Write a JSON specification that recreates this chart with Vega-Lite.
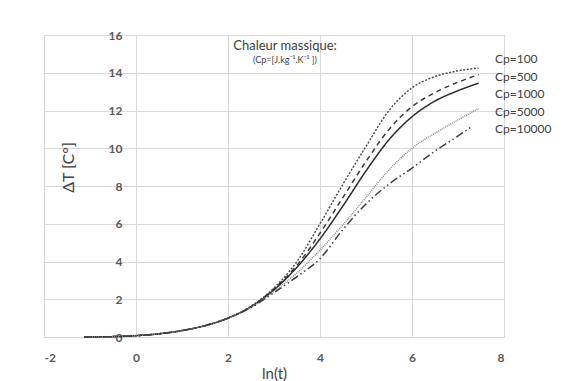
{
  "$schema": "https://vega.github.io/schema/vega-lite/v6.json",
  "width": 460,
  "height": 302,
  "autosize": {"type": "none"},
  "padding": {"left": 44, "top": 35, "right": 71, "bottom": 44},
  "background": "white",
  "config": {
    "view": {"stroke": "#d9d9d9", "strokeWidth": 1},
    "font": "Lato"
  },
  "title": {
    "text": "Chaleur massique:",
    "subtitle": "(Cp=[J.kg⁻¹.K⁻¹ ])",
    "anchor": "middle",
    "frame": "group",
    "offset": -36,
    "dx": 11,
    "font": "Lato",
    "fontSize": 13,
    "fontWeight": "normal",
    "color": "#404040",
    "subtitleFont": "Lato",
    "subtitleFontSize": 9,
    "subtitleColor": "#404040",
    "subtitlePadding": 3
  },
  "data": {
    "values": [
      {"s": "Cp=100", "x": -1.13, "y": 0}, {"s": "Cp=100", "x": -0.5, "y": 0.02}, {"s": "Cp=100", "x": 0, "y": 0.07}, {"s": "Cp=100", "x": 0.5, "y": 0.17}, {"s": "Cp=100", "x": 1, "y": 0.34}, {"s": "Cp=100", "x": 1.5, "y": 0.6}, {"s": "Cp=100", "x": 2, "y": 1.0}, {"s": "Cp=100", "x": 2.5, "y": 1.63}, {"s": "Cp=100", "x": 3, "y": 2.6}, {"s": "Cp=100", "x": 3.5, "y": 4.0}, {"s": "Cp=100", "x": 4, "y": 6.0}, {"s": "Cp=100", "x": 4.5, "y": 8.1}, {"s": "Cp=100", "x": 5, "y": 10.1}, {"s": "Cp=100", "x": 5.5, "y": 12.0}, {"s": "Cp=100", "x": 6, "y": 13.2}, {"s": "Cp=100", "x": 6.5, "y": 13.8}, {"s": "Cp=100", "x": 7, "y": 14.1}, {"s": "Cp=100", "x": 7.45, "y": 14.25},
      {"s": "Cp=500", "x": -1.13, "y": 0}, {"s": "Cp=500", "x": -0.5, "y": 0.02}, {"s": "Cp=500", "x": 0, "y": 0.07}, {"s": "Cp=500", "x": 0.5, "y": 0.17}, {"s": "Cp=500", "x": 1, "y": 0.34}, {"s": "Cp=500", "x": 1.5, "y": 0.6}, {"s": "Cp=500", "x": 2, "y": 1.0}, {"s": "Cp=500", "x": 2.5, "y": 1.61}, {"s": "Cp=500", "x": 3, "y": 2.55}, {"s": "Cp=500", "x": 3.5, "y": 3.8}, {"s": "Cp=500", "x": 4, "y": 5.5}, {"s": "Cp=500", "x": 4.5, "y": 7.4}, {"s": "Cp=500", "x": 5, "y": 9.3}, {"s": "Cp=500", "x": 5.5, "y": 11.0}, {"s": "Cp=500", "x": 6, "y": 12.2}, {"s": "Cp=500", "x": 6.5, "y": 12.95}, {"s": "Cp=500", "x": 7, "y": 13.5}, {"s": "Cp=500", "x": 7.45, "y": 13.9},
      {"s": "Cp=1000", "x": -1.13, "y": 0}, {"s": "Cp=1000", "x": -0.5, "y": 0.02}, {"s": "Cp=1000", "x": 0, "y": 0.07}, {"s": "Cp=1000", "x": 0.5, "y": 0.17}, {"s": "Cp=1000", "x": 1, "y": 0.34}, {"s": "Cp=1000", "x": 1.5, "y": 0.6}, {"s": "Cp=1000", "x": 2, "y": 1.0}, {"s": "Cp=1000", "x": 2.5, "y": 1.6}, {"s": "Cp=1000", "x": 3, "y": 2.5}, {"s": "Cp=1000", "x": 3.5, "y": 3.7}, {"s": "Cp=1000", "x": 4, "y": 5.2}, {"s": "Cp=1000", "x": 4.5, "y": 6.95}, {"s": "Cp=1000", "x": 5, "y": 8.8}, {"s": "Cp=1000", "x": 5.5, "y": 10.45}, {"s": "Cp=1000", "x": 6, "y": 11.67}, {"s": "Cp=1000", "x": 6.5, "y": 12.5}, {"s": "Cp=1000", "x": 7, "y": 13.05}, {"s": "Cp=1000", "x": 7.45, "y": 13.45},
      {"s": "Cp=5000", "x": -1.13, "y": 0}, {"s": "Cp=5000", "x": -0.5, "y": 0.02}, {"s": "Cp=5000", "x": 0, "y": 0.07}, {"s": "Cp=5000", "x": 0.5, "y": 0.17}, {"s": "Cp=5000", "x": 1, "y": 0.34}, {"s": "Cp=5000", "x": 1.5, "y": 0.6}, {"s": "Cp=5000", "x": 2, "y": 1.0}, {"s": "Cp=5000", "x": 2.5, "y": 1.58}, {"s": "Cp=5000", "x": 3, "y": 2.42}, {"s": "Cp=5000", "x": 3.5, "y": 3.4}, {"s": "Cp=5000", "x": 4, "y": 4.6}, {"s": "Cp=5000", "x": 4.5, "y": 5.95}, {"s": "Cp=5000", "x": 5, "y": 7.4}, {"s": "Cp=5000", "x": 5.5, "y": 8.85}, {"s": "Cp=5000", "x": 6, "y": 10.0}, {"s": "Cp=5000", "x": 6.5, "y": 10.8}, {"s": "Cp=5000", "x": 7, "y": 11.5}, {"s": "Cp=5000", "x": 7.45, "y": 12.1},
      {"s": "Cp=10000", "x": -1.13, "y": 0}, {"s": "Cp=10000", "x": -0.5, "y": 0.02}, {"s": "Cp=10000", "x": 0, "y": 0.07}, {"s": "Cp=10000", "x": 0.5, "y": 0.17}, {"s": "Cp=10000", "x": 1, "y": 0.34}, {"s": "Cp=10000", "x": 1.5, "y": 0.6}, {"s": "Cp=10000", "x": 2, "y": 1.0}, {"s": "Cp=10000", "x": 2.5, "y": 1.56}, {"s": "Cp=10000", "x": 3, "y": 2.35}, {"s": "Cp=10000", "x": 3.5, "y": 3.2}, {"s": "Cp=10000", "x": 4, "y": 4.15}, {"s": "Cp=10000", "x": 4.5, "y": 5.7}, {"s": "Cp=10000", "x": 5, "y": 7.05}, {"s": "Cp=10000", "x": 5.5, "y": 8.1}, {"s": "Cp=10000", "x": 6, "y": 8.95}, {"s": "Cp=10000", "x": 6.5, "y": 9.85}, {"s": "Cp=10000", "x": 7, "y": 10.65}, {"s": "Cp=10000", "x": 7.3, "y": 11.15}
    ]
  },
  "mark": {"type": "line", "interpolate": "monotone", "clip": false},
  "encoding": {
    "x": {
      "field": "x",
      "type": "quantitative",
      "scale": {"domain": [-2, 8], "nice": false},
      "axis": {
        "title": "ln(t)",
        "values": [-2, 0, 2, 4, 6, 8],
        "labelExpr": "'' + datum.value",
        "grid": true,
        "gridColor": "#d9d9d9",
        "domainColor": "#d9d9d9",
        "ticks": false,
        "labelPadding": 15,
        "labelFont": "Lato",
        "labelFontSize": 12,
        "labelFontWeight": "bold",
        "labelColor": "#595959",
        "titleFont": "Lato",
        "titleFontSize": 15,
        "titleFontWeight": "normal",
        "titleColor": "#404040",
        "titlePadding": 3
      }
    },
    "y": {
      "field": "y",
      "type": "quantitative",
      "scale": {"domain": [0, 16], "nice": false},
      "axis": {
        "title": "ΔT [C°]",
        "values": [0, 2, 4, 6, 8, 10, 12, 14, 16],
        "offset": -92,
        "grid": true,
        "gridColor": "#d9d9d9",
        "domain": false,
        "ticks": false,
        "labelPadding": 14,
        "labelFont": "Lato",
        "labelFontSize": 12,
        "labelFontWeight": "bold",
        "labelColor": "#595959",
        "titleFont": "Lato",
        "titleFontSize": 16,
        "titleFontWeight": "normal",
        "titleColor": "#404040",
        "titleX": -60,
        "titleY": 132
      }
    },
    "color": {
      "field": "s",
      "type": "nominal",
      "scale": {
        "domain": ["Cp=100", "Cp=500", "Cp=1000", "Cp=5000", "Cp=10000"],
        "range": ["#4d4d4d", "#3a3a3a", "#2b2b2b", "#8c8c8c", "#3f3f3f"]
      },
      "legend": {
        "title": null,
        "orient": "none",
        "legendX": 439,
        "legendY": 18,
        "symbolSize": 0,
        "symbolOpacity": 0,
        "symbolStrokeWidth": 0,
        "labelOffset": 0,
        "labelFont": "Lato",
        "labelFontSize": 12,
        "labelColor": "#404040",
        "rowPadding": 5.6
      }
    },
    "strokeDash": {
      "field": "s",
      "type": "nominal",
      "scale": {
        "domain": ["Cp=100", "Cp=500", "Cp=1000", "Cp=5000", "Cp=10000"],
        "range": [[2, 1.6], [5, 4], [1, 0], [1, 1], [8, 3, 1.5, 3, 1.5, 3]]
      },
      "legend": null
    },
    "strokeWidth": {
      "field": "s",
      "type": "nominal",
      "scale": {
        "domain": ["Cp=100", "Cp=500", "Cp=1000", "Cp=5000", "Cp=10000"],
        "range": [1.5, 1.5, 1.5, 1, 1.5]
      },
      "legend": null
    }
  }
}
